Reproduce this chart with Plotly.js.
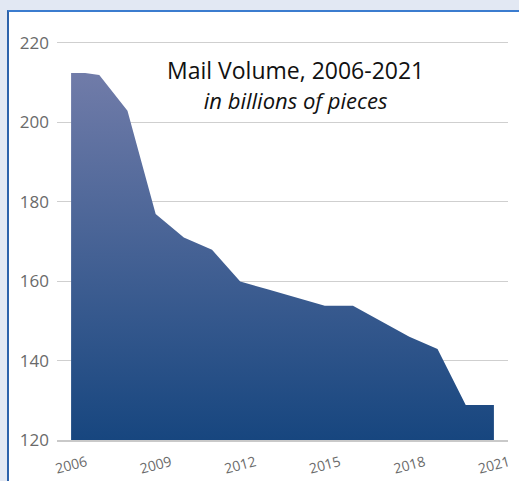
<!DOCTYPE html>
<html>
<head>
<meta charset="utf-8">
<script src="https://cdn.plot.ly/plotly-3.0.1.min.js"></script>
<style>
  html, body { margin: 0; padding: 0; background: #e2e8f3; width: 519px; height: 481px; overflow: hidden; }
  #frame { position: absolute; left: 7px; top: 10px; width: 540px; height: 500px; background: #ffffff;
           border-left: 2px solid #2c62ab; border-top: 2px solid #3b7ccf; }
  #chart { position: absolute; left: 0; top: 0; width: 519px; height: 481px; }
</style>
</head>
<body>
<div id="frame"></div>
<div id="chart"></div>
<script>
// Mail volume, billions of pieces
const years = [2006, 2006.5, 2007, 2008, 2009, 2010, 2011, 2012, 2013, 2014, 2015, 2016, 2017, 2018, 2019, 2020, 2021];
const volume = [212.4, 212.4, 211.9, 202.9, 176.9, 171.0, 167.9, 159.9, 157.9, 155.8, 153.8, 153.8, 149.9, 146.0, 142.9, 128.8, 128.8];
const xTicks = [2006, 2009, 2012, 2015, 2018, 2021];
const yTicks = [120, 140, 160, 180, 200, 220];
const titleText = 'Mail Volume, 2006-2021';
const subtitleText = 'in billions of pieces';

const trace = {
  x: years,
  y: volume,
  type: 'scatter',
  mode: 'lines',
  line: { width: 0, color: '#5a6b9c' },
  fill: 'tozeroy',
  fillgradient: {
    type: 'vertical',
    start: 120,
    stop: 213,
    colorscale: [[0, '#17467f'], [1, '#717ca9']]
  },
  hoverinfo: 'skip'
};

const font = "'Open Sans', 'Noto Sans', sans-serif";

const layout = {
  width: 519,
  height: 481,
  margin: { l: 57, r: 11, t: 23, b: 41 },
  paper_bgcolor: 'rgba(0,0,0,0)',
  plot_bgcolor: 'rgba(0,0,0,0)',
  showlegend: false,
  font: { family: font, color: '#6a6a6a' },
  xaxis: {
    range: [2005.5, 2021.5],
    tickvals: xTicks,
    ticktext: xTicks.map(String),
    tickangle: -15,
    showgrid: false,
    zeroline: false,
    showline: true,
    linecolor: '#c9c9c9',
    linewidth: 2,
    ticks: '',
    ticklabelstandoff: 7,
    ticklabelshift: 15,
    tickfont: { size: 14, color: '#6a6a6a', family: font },
    fixedrange: true
  },
  yaxis: {
    range: [120, 225],
    tickvals: yTicks,
    showgrid: true,
    gridcolor: '#cfcfcf',
    gridwidth: 1,
    zeroline: false,
    showline: false,
    ticks: '',
    ticklabelstandoff: 7,
    tickfont: { size: 17, color: '#6a6a6a', family: font },
    fixedrange: true
  },
  annotations: [
    { text: titleText + '<br><i><span style="font-size:22px">' + subtitleText + '</span></i>',
      xref: 'paper', yref: 'paper', x: (295 - 57) / 451, y: (481 - 41 - 85) / 417,
      xanchor: 'center', yanchor: 'middle', align: 'center', showarrow: false,
      font: { size: 23, color: '#111111', family: font } }
  ]
};

Plotly.newPlot('chart', [trace], layout, { displayModeBar: false, staticPlot: true });
</script>
</body>
</html>
